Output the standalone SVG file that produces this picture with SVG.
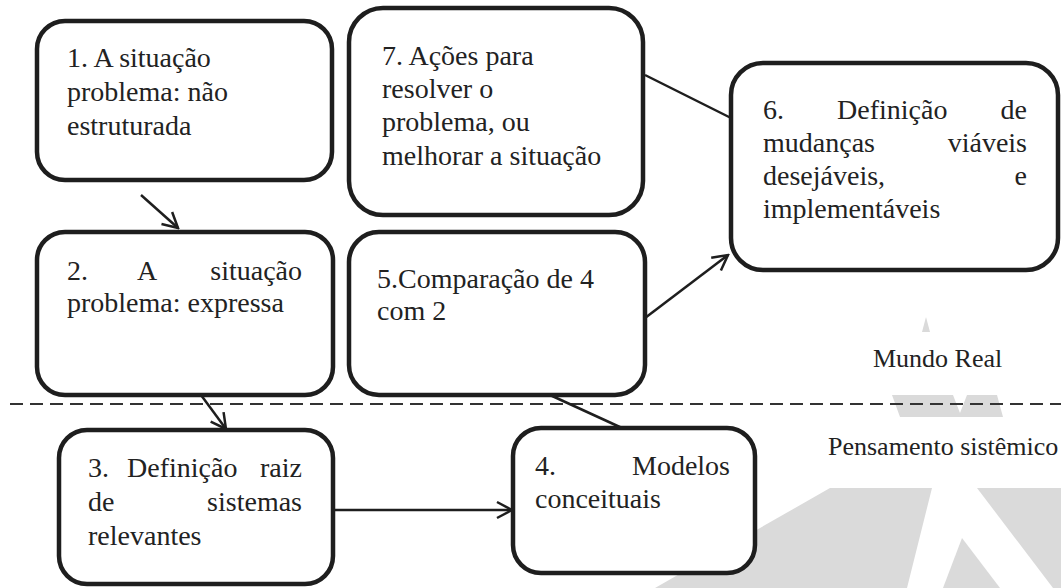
<svg xmlns="http://www.w3.org/2000/svg" width="1061" height="588" viewBox="0 0 1061 588">
<style>
.box{fill:#fff;stroke:#1e1e1e;stroke-width:4.5}
.bt{font-family:"Liberation Serif","Times New Roman",serif;font-size:28px;fill:#222}
.lbl{font-family:"Liberation Serif","Times New Roman",serif;font-size:26px;fill:#222}
.c{fill:none;stroke:#1e1e1e;stroke-width:2.5}
.wm{fill:#dadada}
.ed{text-anchor:end}
</style>
<defs>
<marker id="arr" markerUnits="userSpaceOnUse" viewBox="-17 -10 19 20" markerWidth="19" markerHeight="20" refX="0" refY="0" orient="auto">
<path d="M-15,-8 L0,0 L-15,8" fill="none" stroke="#1e1e1e" stroke-width="2.5"/>
</marker>
</defs>
<g id="watermark">
<polygon class="wm" points="922,332 926,317 930,332"/>
<polygon class="wm" points="892,395 953,395 960,413 967,395 997,395 1003,417 900,417"/>
<polygon class="wm" points="655,588 830,488 932,488 907,588"/>
<polygon class="wm" points="962,538 943,588 1000,588"/>
<polygon class="wm" points="977,488 1061,488 1061,588 1053,588"/>
</g>
<line x1="10" y1="404" x2="1061" y2="404" stroke="#333" stroke-width="2" stroke-dasharray="13,7"/>
<text class="lbl" x="873" y="367">Mundo Real</text>
<text class="lbl" x="828" y="455">Pensamento sistêmico</text>
<g id="connectors">
<line class="c" x1="141" y1="195" x2="178" y2="228" marker-end="url(#arr)"/>
<line class="c" x1="201" y1="395" x2="226" y2="429" marker-end="url(#arr)"/>
<line class="c" x1="333" y1="510" x2="512" y2="510" marker-end="url(#arr)"/>
<line class="c" x1="622" y1="428" x2="550" y2="395"/>
<line class="c" x1="645" y1="318" x2="728" y2="255" marker-end="url(#arr)"/>
<line class="c" x1="645" y1="75" x2="731" y2="118"/>
</g>
<g id="n1">
<rect class="box" x="37" y="21" width="295" height="159" rx="28"/>
<text class="bt" x="67" y="67">1. A situação</text>
<text class="bt" x="67" y="101">problema: não</text>
<text class="bt" x="67" y="135">estruturada</text>
</g>
<g id="n7">
<rect class="box" x="349" y="8" width="294" height="207" rx="34"/>
<text class="bt" x="382" y="65">7. Ações para</text>
<text class="bt" x="382" y="98">resolver o</text>
<text class="bt" x="382" y="131">problema, ou</text>
<text class="bt" x="382" y="165">melhorar a situação</text>
</g>
<g id="n6">
<rect class="box" x="731" y="63" width="327" height="207" rx="32"/>
<text class="bt" x="763" y="119">6.</text>
<text class="bt" x="837" y="119">Definição</text>
<text class="bt ed" x="1027" y="119">de</text>
<text class="bt" x="763" y="152">mudanças</text>
<text class="bt ed" x="1027" y="152">viáveis</text>
<text class="bt" x="763" y="185">desejáveis,</text>
<text class="bt ed" x="1027" y="185">e</text>
<text class="bt" x="763" y="218">implementáveis</text>
</g>
<g id="n2">
<rect class="box" x="37" y="232" width="296" height="163" rx="28"/>
<text class="bt" x="67" y="280">2.</text>
<text class="bt" x="137" y="280">A</text>
<text class="bt ed" x="302" y="280">situação</text>
<text class="bt" x="67" y="312">problema: expressa</text>
</g>
<g id="n5">
<rect class="box" x="349" y="232" width="296" height="163" rx="30"/>
<text class="bt" x="377" y="288">5.Comparação de 4</text>
<text class="bt" x="377" y="320">com 2</text>
</g>
<g id="n3">
<rect class="box" x="59" y="430" width="274" height="154" rx="28"/>
<text class="bt" x="88" y="477">3.</text>
<text class="bt" x="127" y="477">Definição</text>
<text class="bt ed" x="302" y="477">raiz</text>
<text class="bt" x="88" y="511">de</text>
<text class="bt ed" x="302" y="511">sistemas</text>
<text class="bt" x="88" y="545">relevantes</text>
</g>
<g id="n4">
<rect class="box" x="513" y="428" width="242" height="145" rx="28"/>
<text class="bt" x="535" y="475">4.</text>
<text class="bt ed" x="730" y="475">Modelos</text>
<text class="bt" x="535" y="508">conceituais</text>
</g>
</svg>
